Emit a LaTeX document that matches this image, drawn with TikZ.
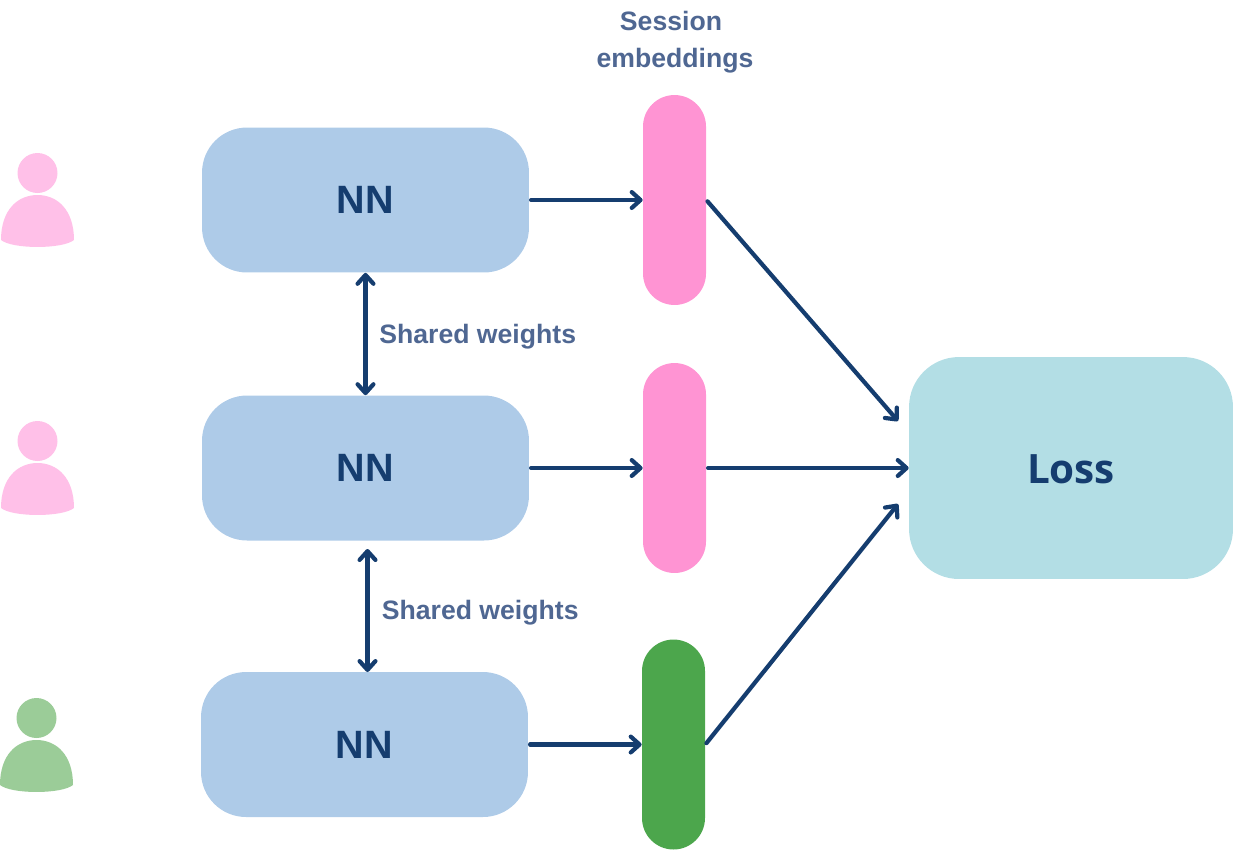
\documentclass[tikz,border=0pt]{standalone}
\usepackage{fontspec}
\setmainfont{Liberation Sans}
\newfontfamily\lossfont{Open Sans}
\usetikzlibrary{arrows.meta, calc}
\definecolor{navy}{HTML}{153D6F}
\definecolor{slate}{HTML}{4F6792}
\definecolor{nnblue}{HTML}{AECBE8}
\definecolor{barpink}{HTML}{FF94D3}
\definecolor{bargreen}{HTML}{4CA64C}
\definecolor{losscyan}{HTML}{B3DEE5}
\definecolor{userpink}{HTML}{FFC0E8}
\definecolor{usergreen}{HTML}{9BCC98}

\begin{document}
\begin{tikzpicture}[
  x=0.02cm, y=-0.02cm,
  user/.style={
    inner sep=0pt,
    minimum width=1.56cm,
    minimum height=2cm,
    path picture={
      \fill[#1, shift={(path picture bounding box.center)}] (0,-27) circle (20); % Head
      \fill[#1, shift={(path picture bounding box.center)}] (-36.5,40)
        .. controls (-36.5,10) and (-20,-5) .. (0,-5)
        .. controls (20,-5) and (36.5,10) .. (36.5,40)
        .. controls (25,49.3) and (-25,49.3) .. cycle; % Body
    }
  },
  nnbox/.style={
    rectangle, rounded corners=0.9cm, fill=nnblue, text=navy,
    minimum width=6.54cm, minimum height=2.9cm, inner sep=0pt,
    font=\fontsize{22.5}{27}\selectfont\bfseries
  },
  embed/.style={
    rectangle, rounded corners=0.63cm, fill=#1,
    minimum width=1.26cm, minimum height=4.2cm, inner sep=0pt
  },
  lossbox/.style={
    rectangle, rounded corners=1cm, fill=losscyan, text=navy,
    minimum width=6.48cm, minimum height=4.44cm, inner sep=0pt,
    font=\lossfont\fontsize{23}{27}\selectfont\bfseries
  },
  caption/.style={
    text=slate, inner sep=0pt, align=center,
    font=\fontsize{15.15}{21}\selectfont\bfseries
  },
  flow/.style={-{Straight Barb[length=5pt, width=9pt, round]}, line width=2.4pt, navy, line cap=round, shorten <=1pt},
  shared/.style={{Straight Barb[length=5pt, width=9pt, round]}-{Straight Barb[length=5pt, width=9pt, round]}, line width=2.4pt, navy}
]
\useasboundingbox (0,0) rectangle (1233,850);

% ----------------- USERS -----------------
\node[user=userpink] (user_a) at (37.5,200) {};
\node[user=userpink] (user_b) at (37.5,468) {};
\node[user=usergreen] (user_c) at (36.5,745) {};

% ----------------- NETWORKS -----------------
\node[nnbox] (nn_a) at (365.5,200) {NN};
\node[nnbox] (nn_b) at (365.5,468) {NN};
\node[nnbox] (nn_c) at (364.5,744.5) {NN};

% ----------------- EMBEDDINGS -----------------
\node[embed=barpink] (emb_a) at (674.5,200) {};
\node[embed=barpink] (emb_b) at (674.5,468) {};
\node[embed=bargreen] (emb_c) at (673.5,744.5) {};

\node[lossbox] (loss) at (1071,468) {\raisebox{-0.6pt}[\dimexpr\height+0.6pt\relax]{Loss}};

% ----------------- LABELS -----------------
\node[caption] (lbl_session) at (675,42.5) {Session\hspace*{0.16cm}\\embeddings};
\node[caption, anchor=west] (lbl_shared_a) at (379,337) {Shared weights};
\node[caption, anchor=west] (lbl_shared_b) at (381.5,613) {Shared weights};

% ----------------- CONNECTIONS -----------------
\coordinate (loss_top) at (898,421);
\coordinate (loss_bot) at (898,504);
\coordinate (nn_b_low) at (367.5,549);
\coordinate (nn_c_top) at (367.5,672);

\draw[flow] (nn_a.east) -- (emb_a.west);
\draw[flow] (nn_b.east) -- (emb_b.west);
\draw[flow] (nn_c.east) -- (emb_c.west);

\draw[flow] (emb_a.east) -- (loss_top);
\draw[flow] (emb_b.east) -- (loss.west);
\draw[flow] (emb_c.east) -- (loss_bot);

\draw[shared] (nn_a.south) -- (nn_b.north);
\draw[shared] (nn_b_low) -- (nn_c_top);

\end{tikzpicture}
\end{document}
